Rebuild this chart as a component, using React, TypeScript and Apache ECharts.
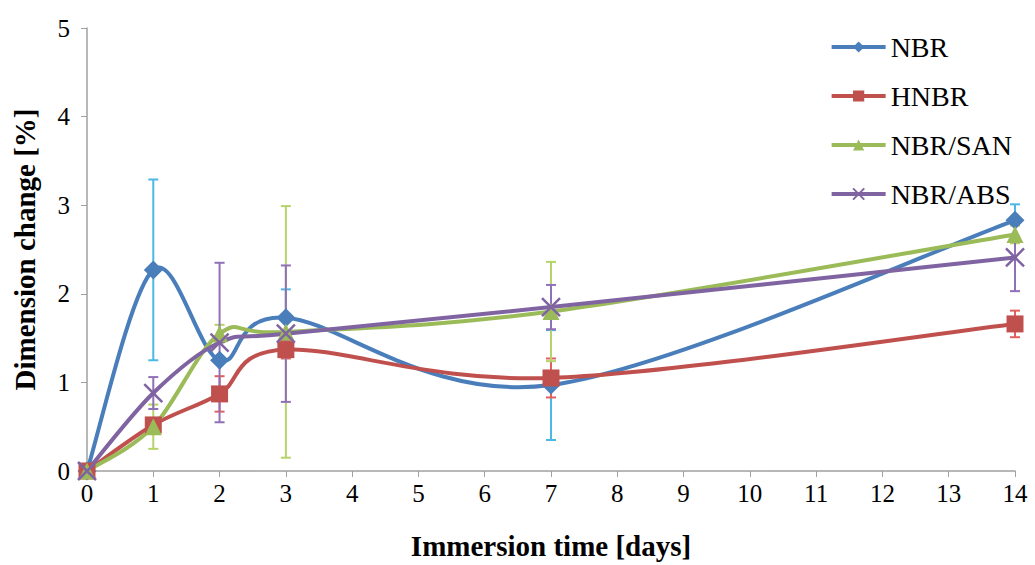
import React, { useEffect, useRef } from "react";
import * as echarts from "echarts";

const days = [0, 1, 2, 3, 7, 14];
const nbr = [0, 2.27, 1.25, 1.73, 0.97, 2.83];
const nbrErr = [0, 1.02, 0, 0.32, 0.62, 0.18];
const hnbr = [0, 0.52, 0.87, 1.37, 1.05, 1.66];
const hnbrErr = [0, 0.05, 0.2, 0.1, 0.22, 0.15];
const san = [0, 0.5, 1.55, 1.57, 1.8, 2.67];
const sanErr = [0, 0.25, 0.1, 1.42, 0.56, 0.1];
const abs = [0, 0.88, 1.45, 1.55, 1.85, 2.41];
const absErr = [0, 0.18, 0.9, 0.77, 0.25, 0.38];

const names = ["NBR", "HNBR", "NBR/SAN", "NBR/ABS"];
const colors = ["#4a7ebb", "#c0504d", "#9bbb59", "#8064a2"];
const errColors = ["#4bb8e6", "#e0605c", "#b5d36b", "#9070b8"];
const symbols = ["diamond", "rect", "triangle", "path://M0,0L10,10M10,0L0,10"];
const symbolSizes = [19, 17, 17, 18];

export default function App() {
  const ref = useRef<HTMLDivElement>(null);
  useEffect(() => {
    document.body.style.margin = "0";
    const chart = echarts.init(ref.current!, null, { renderer: "svg" });
    const values = [nbr, hnbr, san, abs];
    const errs = [nbrErr, hnbrErr, sanErr, absErr];
    const font = "'Liberation Serif', 'Times New Roman', serif";
    const n = days.length;

    // Marker series (line hidden; curve drawn by the custom series below)
    const markerSeries = values.map((v, i) => ({
      name: names[i],
      type: "line",
      data: days.map((d, j) => [d, v[j]]),
      symbol: symbols[i],
      symbolSize: symbolSizes[i],
      lineStyle: { color: colors[i], width: 4, opacity: 0 },
      itemStyle:
        i === 3
          ? { color: colors[i], borderColor: colors[i], borderWidth: 2.5 }
          : { color: colors[i] },
      z: 4,
    }));

    // Smoothed (Catmull-Rom, Excel-like) curves
    const curveSeries = values.map((v, i) => ({
      name: names[i] + " curve",
      type: "custom",
      silent: true,
      z: 3,
      encode: { x: 2, y: 3 },
      data: days.slice(0, n - 1).map((d, j) => {
        const a = Math.max(j - 1, 0);
        const c = j + 1;
        const e = Math.min(j + 2, n - 1);
        return [days[a], v[a], days[j], v[j], days[c], v[c], days[e], v[e]];
      }),
      renderItem: (params: any, api: any) => {
        const p0 = api.coord([api.value(0), api.value(1)]);
        const p1 = api.coord([api.value(2), api.value(3)]);
        const p2 = api.coord([api.value(4), api.value(5)]);
        const p3 = api.coord([api.value(6), api.value(7)]);
        return {
          type: "bezierCurve",
          shape: {
            x1: p1[0],
            y1: p1[1],
            x2: p2[0],
            y2: p2[1],
            cpx1: p1[0] + (p2[0] - p0[0]) / 6,
            cpy1: p1[1] + (p2[1] - p0[1]) / 6,
            cpx2: p2[0] - (p3[0] - p1[0]) / 6,
            cpy2: p2[1] - (p3[1] - p1[1]) / 6,
          },
          style: { stroke: colors[i], lineWidth: 4, fill: "none", lineCap: "round" },
        };
      },
    }));

    const errSeries = values.map((v, i) => ({
      name: names[i] + " err",
      type: "custom",
      silent: true,
      z: 2,
      data: days
        .map((d, j) => [d, v[j] - errs[i][j], v[j] + errs[i][j]])
        .filter((r) => r[2] - r[1] > 0.001),
      renderItem: (params: any, api: any) => {
        const x = api.value(0);
        const lo = api.coord([x, api.value(1)]);
        const hi = api.coord([x, api.value(2)]);
        const w = 5;
        const style = { stroke: errColors[i], lineWidth: 2 };
        return {
          type: "group",
          children: [
            { type: "line", shape: { x1: lo[0], y1: lo[1], x2: hi[0], y2: hi[1] }, style },
            { type: "line", shape: { x1: lo[0] - w, y1: lo[1], x2: lo[0] + w, y2: lo[1] }, style },
            { type: "line", shape: { x1: hi[0] - w, y1: hi[1], x2: hi[0] + w, y2: hi[1] }, style },
          ],
        };
      },
    }));

    chart.setOption({
      animation: false,
      backgroundColor: "#ffffff",
      grid: { left: 87, right: 20, top: 28, bottom: 92 },
      legend: {
        data: names.map((nm, i) => ({
          name: nm,
          lineStyle: { color: colors[i], width: 4, opacity: 1 },
        })),
        orient: "vertical",
        right: 18,
        top: 28,
        itemWidth: 54,
        itemHeight: 14,
        itemGap: 21,
        lineStyle: { opacity: 1, width: 4 },
        textStyle: { fontFamily: font, fontSize: 28, color: "#000" },
      },
      xAxis: {
        type: "value",
        min: 0,
        max: 14,
        interval: 1,
        name: "Immersion time [days]",
        nameLocation: "middle",
        nameGap: 60,
        nameTextStyle: { fontFamily: font, fontSize: 29, fontWeight: "bold", color: "#000" },
        axisLine: { lineStyle: { color: "#a0a0a0", width: 1.5 } },
        axisTick: { show: true, length: 6, lineStyle: { color: "#a0a0a0" } },
        axisLabel: { fontFamily: font, fontSize: 25, color: "#000", margin: 10 },
        splitLine: { show: false },
      },
      yAxis: {
        type: "value",
        min: 0,
        max: 5,
        interval: 1,
        name: "Dimension change [%]",
        nameLocation: "middle",
        nameGap: 48,
        nameRotate: 90,
        nameTextStyle: { fontFamily: font, fontSize: 29, fontWeight: "bold", color: "#000" },
        axisLine: { show: true, lineStyle: { color: "#a0a0a0", width: 1.5 } },
        axisTick: { show: true, length: 6, lineStyle: { color: "#a0a0a0" } },
        axisLabel: { fontFamily: font, fontSize: 25, color: "#000", margin: 17 },
        splitLine: { show: false },
      },
      series: [...errSeries, ...curveSeries, ...markerSeries],
    });
    return () => chart.dispose();
  }, []);
  return <div ref={ref} style={{ width: 1035, height: 565 }} />;
}
